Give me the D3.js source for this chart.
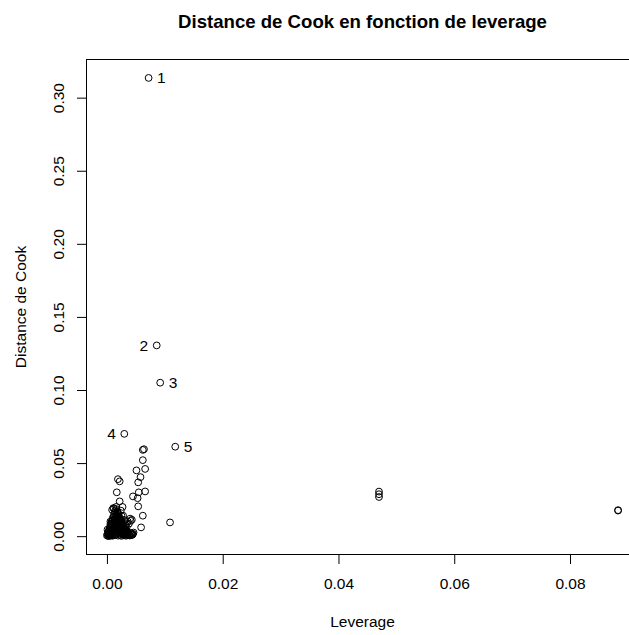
<!DOCTYPE html>
<html>
<head>
<meta charset="utf-8">
<script src="https://cdn.jsdelivr.net/npm/d3@7"></script>
<style>
html,body{margin:0;padding:0;background:#fff;}
svg{display:block;font-family:"Liberation Sans",Arial,Helvetica,sans-serif;}
</style>
</head>
<body>
<svg id="chart" width="629" height="635"></svg>
<script>
// Leverage (x) and Cook's distance (y) values
const leverage = [
  0.0072, 0.0086, 0.0092, 0.0030, 0.0118,
  0.0062, 0.0064, 0.0062, 0.0066, 0.0051, 0.0058, 0.0019, 0.0022, 0.0054,
  0.0066, 0.0055, 0.0017, 0.0045, 0.0053, 0.0022, 0.0054, 0.0011, 0.0062,
  0.0043, 0.0041, 0.0109, 0.0059, 0.0044, 0.0470, 0.0470, 0.0470, 0.0883, 0.0883,
  0.0002, 0.0003, 0.0004, 0.0005, 0.0006, 0.0007, 0.0008, 0.0009, 0.0010, 0.0011,
  0.0012, 0.0013, 0.0014, 0.0015, 0.0016, 0.0017, 0.0018, 0.0019, 0.0020, 0.0021,
  0.0022, 0.0023, 0.0024, 0.0025, 0.0026, 0.0027, 0.0028, 0.0029, 0.0030, 0.0031,
  0.0032, 0.0033, 0.0034, 0.0035, 0.0036, 0.0038, 0.0040, 0.0042, 0.0044, 0.0046,
  0.0005, 0.0008, 0.0010, 0.0012, 0.0014, 0.0009, 0.0016, 0.0018, 0.0020, 0.0022,
  0.0024, 0.0026, 0.0028, 0.0030, 0.0032, 0.0034, 0.0013, 0.0007, 0.0003, 0.0001,
  0.0000, 0.0001, 0.0004, 0.0006, 0.0011, 0.0015, 0.0019, 0.0021, 0.0025, 0.0036,
  0.0038, 0.0040, 0.0027, 0.0017, 0.0002, 0.0009, 0.0014, 0.0023, 0.0029, 0.0033,
  0.0037, 0.0041, 0.0012, 0.0018, 0.0024, 0.0031, 0.0006, 0.0016, 0.0020, 0.0026,
  0.0005, 0.0007, 0.0009, 0.0011, 0.0013, 0.0015, 0.0017, 0.0019, 0.0021, 0.0023,
  0.0025, 0.0027, 0.0029, 0.0031, 0.0033, 0.0035, 0.0004, 0.0006, 0.0008, 0.0010,
  0.0012, 0.0014, 0.0016, 0.0018, 0.0020, 0.0022, 0.0024, 0.0026, 0.0028, 0.0030,
  0.0032, 0.0034, 0.0003, 0.0005, 0.0007, 0.0009, 0.0011, 0.0013, 0.0015, 0.0017,
  0.0019, 0.0021, 0.0023, 0.0025, 0.0027, 0.0029, 0.0031, 0.0039, 0.0006, 0.0008,
  0.0010, 0.0012, 0.0014, 0.0016, 0.0018, 0.0020, 0.0022, 0.0024, 0.0026, 0.0028,
  0.0030, 0.0035, 0.0043, 0.0045
];
const cookDistance = [
  0.3135, 0.1305, 0.1050, 0.0700, 0.0612,
  0.0590, 0.0595, 0.0520, 0.0460, 0.0450, 0.0404, 0.0390, 0.0375, 0.0368,
  0.0306, 0.0300, 0.0300, 0.0272, 0.0260, 0.0238, 0.0204, 0.0192, 0.0140,
  0.0112, 0.0105, 0.0094, 0.0060, 0.0014, 0.0268, 0.0287, 0.0305, 0.0175, 0.0178,
  0.0001, 0.0004, 0.0008, 0.0002, 0.0012, 0.0005, 0.0020, 0.0009, 0.0003, 0.0030,
  0.0015, 0.0007, 0.0042, 0.0022, 0.0011, 0.0055, 0.0031, 0.0004, 0.0068, 0.0018,
  0.0040, 0.0009, 0.0026, 0.0002, 0.0050, 0.0013, 0.0034, 0.0006, 0.0021, 0.0011,
  0.0045, 0.0003, 0.0016, 0.0008, 0.0030, 0.0012, 0.0005, 0.0020, 0.0010, 0.0025,
  0.0060, 0.0085, 0.0110, 0.0130, 0.0160, 0.0180, 0.0200, 0.0120, 0.0150, 0.0095,
  0.0175, 0.0080, 0.0140, 0.0110, 0.0075, 0.0060, 0.0100, 0.0070, 0.0030, 0.0015,
  0.0005, 0.0045, 0.0025, 0.0035, 0.0050, 0.0080, 0.0095, 0.0120, 0.0140, 0.0100,
  0.0085, 0.0120, 0.0200, 0.0135, 0.0020, 0.0040, 0.0065, 0.0055, 0.0090, 0.0040,
  0.0020, 0.0015, 0.0190, 0.0170, 0.0105, 0.0065, 0.0100, 0.0035, 0.0028, 0.0018,
  0.0018, 0.0026, 0.0035, 0.0048, 0.0062, 0.0058, 0.0075, 0.0082, 0.0090, 0.0072,
  0.0064, 0.0055, 0.0046, 0.0038, 0.0027, 0.0019, 0.0010, 0.0016, 0.0028, 0.0040,
  0.0052, 0.0066, 0.0096, 0.0088, 0.0110, 0.0104, 0.0118, 0.0092, 0.0070, 0.0052,
  0.0036, 0.0024, 0.0038, 0.0050, 0.0062, 0.0078, 0.0092, 0.0114, 0.0128, 0.0145,
  0.0158, 0.0132, 0.0105, 0.0085, 0.0060, 0.0042, 0.0030, 0.0006, 0.0082, 0.0100,
  0.0125, 0.0148, 0.0172, 0.0185, 0.0160, 0.0135, 0.0078, 0.0058, 0.0044, 0.0030,
  0.0014, 0.0010, 0.0008, 0.0016
];
// Labelled observations (first five entries of the arrays)
const pointLabels = ["1", "2", "3", "4", "5"];
const labelSides = ["right", "left", "right", "left", "right"];
const xTicks = [0.00, 0.02, 0.04, 0.06, 0.08];
const yTicks = [0.00, 0.05, 0.10, 0.15, 0.20, 0.25, 0.30];

const titleText = "Distance de Cook en fonction de leverage";
const xLabel = "Leverage";
const yLabel = "Distance de Cook";

const svg = d3.select("#chart");
const box = {left: 86.5, top: 59.5, right: 638.5, bottom: 554.5};
const lineH = 19;      // one margin line, px
const fs = 15.5;       // base font size
const fsTitle = 18.6;  // title font size

const x = d3.scaleLinear().domain([-0.00353, 0.09183]).range([box.left, box.right]);
const y = d3.scaleLinear().domain([-0.01254, 0.3261]).range([box.bottom, box.top]);

// plot box
svg.append("rect")
  .attr("x", box.left).attr("y", box.top)
  .attr("width", box.right - box.left).attr("height", box.bottom - box.top)
  .attr("fill", "none").attr("stroke", "#000").attr("stroke-width", 1);

// x axis
const xAxis = d3.axisBottom(x).tickValues(xTicks).tickFormat(d3.format(".2f")).tickSize(lineH / 2).tickSizeOuter(0);
const gx = svg.append("g").attr("transform", `translate(0,${box.bottom})`).call(xAxis);
gx.select(".domain").attr("d", `M${x(xTicks[0])},0H${x(xTicks[xTicks.length-1])}`);
gx.selectAll("text").attr("font-size", fs).attr("font-family", "Liberation Sans, Arial, sans-serif")
  .attr("fill", "#000").attr("dy", null).attr("y", 1.8 * lineH);
gx.selectAll("line,path").attr("stroke", "#000");

// y axis
const yAxis = d3.axisLeft(y).tickValues(yTicks).tickFormat(d3.format(".2f")).tickSize(lineH / 2).tickSizeOuter(0);
const gy = svg.append("g").attr("transform", `translate(${box.left},0)`).call(yAxis);
gy.select(".domain").attr("d", `M0,${y(yTicks[0])}V${y(yTicks[yTicks.length-1])}`);
gy.selectAll(".tick text")
  .attr("font-size", fs).attr("font-family", "Liberation Sans, Arial, sans-serif").attr("fill", "#000")
  .attr("x", null).attr("dy", null)
  .attr("text-anchor", "middle")
  .attr("transform", `translate(${-1.2 * lineH},0) rotate(-90)`);
gy.selectAll("line,path").attr("stroke", "#000");

// points
const pts = leverage.map((v, i) => ({lev: v, cook: cookDistance[i], i}));
svg.append("g").selectAll("circle").data(pts).join("circle")
  .attr("cx", d => x(d.lev)).attr("cy", d => y(d.cook)).attr("r", 3.4)
  .attr("fill", "none").attr("stroke", "#000").attr("stroke-width", 1);

// point labels
svg.append("g").selectAll("text").data(pointLabels).join("text")
  .attr("x", (d, i) => x(leverage[i]) + (labelSides[i] === "right" ? 8.5 : -8.5))
  .attr("y", (d, i) => y(cookDistance[i]) + 5.5)
  .attr("text-anchor", (d, i) => labelSides[i] === "right" ? "start" : "end")
  .attr("font-size", fs).attr("fill", "#000").text(d => d);

// titles
const cx = (box.left + box.right) / 2;
svg.append("text").attr("x", cx).attr("y", 27.5).attr("text-anchor", "middle")
  .attr("font-size", fsTitle).attr("font-weight", "bold").text(titleText);
svg.append("text").attr("x", cx).attr("y", box.bottom + 3.8 * lineH).attr("text-anchor", "middle")
  .attr("font-size", fs).text(xLabel);
svg.append("text").attr("transform", `translate(${box.left - 3.2 * lineH},${(box.top + box.bottom) / 2}) rotate(-90)`)
  .attr("text-anchor", "middle").attr("font-size", fs).text(yLabel);
</script>
</body>
</html>
